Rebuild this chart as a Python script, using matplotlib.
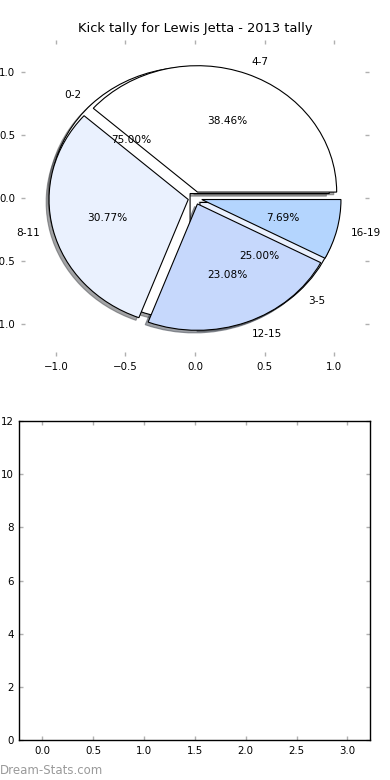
#!/usr/bin/env python
# -*- coding: utf-8 -*-

#
# Kick tally pie for Lewis Jetta, 2013, plus an empty panel below it.
#

import matplotlib
matplotlib.use('Agg')
import matplotlib.pyplot as plt

# Main breakdown of kicks per game.
kick_ranges = ['4-7', '8-11', '12-15', '16-19']
kick_counts = [5, 4, 3, 1]

# Second breakdown drawn underneath.
low_ranges = ['0-2', '3-5']
low_counts = [3, 1]

wedge_colours = ['#ffffff', '#eaf1fe', '#c6d8fc', '#b4d5fe']

title = 'Kick tally for Lewis Jetta - 2013 tally'
watermark = 'Dream-Stats.com'

pie_ticks = [-1.0, -0.5, 0.0, 0.5, 1.0]
bar_xticks = [0.0, 0.5, 1.0, 1.5, 2.0, 2.5, 3.0]
bar_yticks = [0, 2, 4, 6, 8, 10, 12]


def style_ticks(ax):
	ax.tick_params(direction='in', top=True, right=True, length=3,
	               width=1, color='#b0b0b0', labelsize=7.4, pad=4)


def main():
	fig = plt.figure(figsize=(3.9, 7.8), dpi=100)

	# Top panel: the pies.
	ax = fig.add_axes([21 / 390, 1 - 356 / 780, 348 / 390, 316 / 780])
	wprops = {'edgecolor': 'black', 'linewidth': 0.8}
	tprops = {'fontsize': 7.6}
	shad = {'ox': -0.015, 'oy': -0.015}
	ax.pie(low_counts, labels=low_ranges, colors=wedge_colours,
	       explode=[0.05] * len(low_counts), autopct='%1.2f%%',
	       shadow=shad, wedgeprops=wprops, textprops=tprops)
	ax.pie(kick_counts, labels=kick_ranges, colors=wedge_colours,
	       explode=[0.05] * len(kick_counts), autopct='%1.2f%%',
	       shadow=shad, wedgeprops=wprops, textprops=tprops)
	ax.set_aspect('auto')
	ax.set_frame_on(False)
	ax.set_xlim(-1.25, 1.25)
	ax.set_ylim(-1.25, 1.25)
	ax.set_xticks(pie_ticks)
	ax.set_yticks(pie_ticks)
	style_ticks(ax)
	ax.set_title(title, fontsize=9.4, pad=6)

	# Bottom panel: empty axes.
	bx = fig.add_axes([19.3 / 390, 1 - 740.3 / 780, 351 / 390, 319.3 / 780])
	bx.set_xlim(-0.225, 3.225)
	bx.set_ylim(0, 12)
	bx.set_xticks(bar_xticks)
	bx.set_yticks(bar_yticks)
	style_ticks(bx)
	for s in bx.spines.values():
		s.set_linewidth(1.0)

	fig.text(0.0, 1 - 770 / 780, watermark, color='#9a9a9a', fontsize=8.5,
	         ha='left', va='center')

	fig.savefig('out.png', dpi=100)


if __name__ == '__main__':
	main()
